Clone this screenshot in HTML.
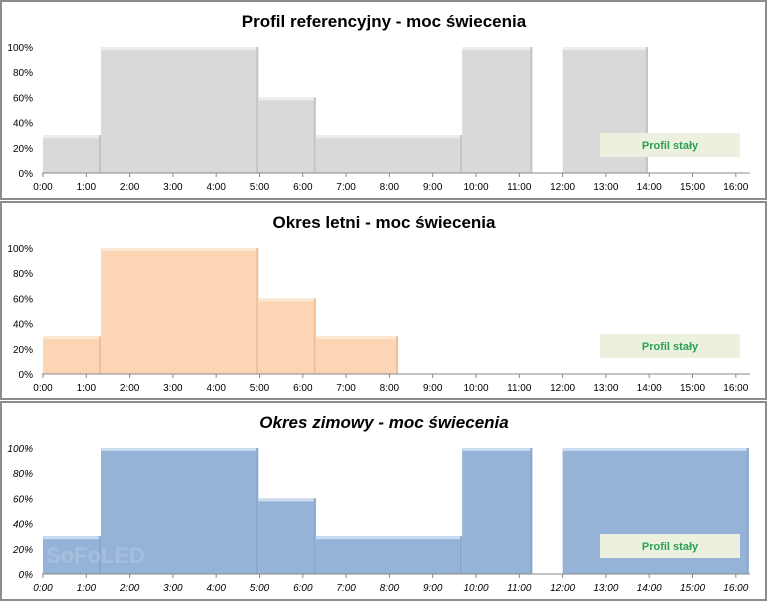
<!DOCTYPE html>
<html><head><meta charset="utf-8"><style>
body{margin:0;background:#fff;}
svg{display:block;font-family:"Liberation Sans",sans-serif;}
</style></head><body>
<svg id="s" width="768" height="602" viewBox="0 0 768 602"></svg>
<script>
const s=document.getElementById('s');
const X=h=>43+h*43.3;
let o='';
const panels=[
 {y0:0,h:200,title:'Profil referencyjny - moc świecenia',it:false,top:47,fill:'#d9d9d9',edge:'#c4c4c4',light:'#ededed',
  d:[[0,1.34,30],[1.34,4.97,100],[4.97,6.3,60],[6.3,9.68,30],[9.68,11.3,100],[12,13.97,100]],leg:true},
 {y0:201,h:199,title:'Okres letni - moc świecenia',it:false,top:248,fill:'#fcd5b4',edge:'#eebf98',light:'#fde6d2',
  d:[[0,1.34,30],[1.34,4.97,100],[4.97,6.3,60],[6.3,8.2,30]],leg:true},
 {y0:401,h:200,title:'Okres zimowy - moc świecenia',it:true,top:448,fill:'#95b3d7',edge:'#8aa8ce',light:'#c9daee',
  d:[[0,1.34,30],[1.34,4.97,100],[4.97,6.3,60],[6.3,9.68,30],[9.68,11.3,100],[12,16.3,100]],leg:true}
];
panels.forEach(p=>{
 const bot=p.top+126, Y=v=>bot-v*1.26;
 o+=`<rect x="1" y="${p.y0+1}" width="765" height="${p.h-2}" fill="#fff" stroke="#8c8c8c" stroke-width="2"/>`;
 o+=`<text x="384" y="${p.top-20}" text-anchor="middle" font-size="17" font-weight="bold" ${p.it?'font-style="italic"':''}>${p.title}</text>`;
 p.d.forEach(([a,b,v])=>{
  o+=`<rect x="${X(a)}" y="${Y(v)}" width="${X(b)-X(a)}" height="${bot-Y(v)}" fill="${p.fill}"/>`;
  o+=`<rect x="${X(a)}" y="${Y(v)}" width="${X(b)-X(a)}" height="3" fill="${p.light}"/>`;
  o+=`<rect x="${X(b)-2}" y="${Y(v)}" width="2" height="${bot-Y(v)}" fill="${p.edge}"/>`;
 });
 for(let i=0;i<=5;i++){o+=`<text x="33" y="${Y(i*20)+4}" text-anchor="end" font-size="10" ${p.it?'font-style="italic"':''}>${i*20}%</text>`;}
 o+=`<line x1="42" y1="${bot}" x2="750" y2="${bot}" stroke="#888"/>`;
 for(let h=0;h<=16;h++){o+=`<line x1="${X(h)}" y1="${bot}" x2="${X(h)}" y2="${bot+4}" stroke="#888"/>`;
  o+=`<text x="${X(h)}" y="${bot+17}" text-anchor="middle" font-size="10" ${p.it?'font-style="italic"':''}>${h}:00</text>`;}
 if(p.leg){o+=`<rect x="600" y="${bot-40}" width="140" height="24" fill="#ebf1de"/>`;
  o+=`<text x="670" y="${bot-24}" text-anchor="middle" font-size="11" font-weight="bold" fill="#2e9e57">Profil stały</text>`;}
});
o+=`<text x="46" y="563" font-size="22" font-weight="bold" fill="#a9c1e0" opacity="0.85">SoFoLED</text>`;
s.innerHTML=o;
</script>
</body></html>
